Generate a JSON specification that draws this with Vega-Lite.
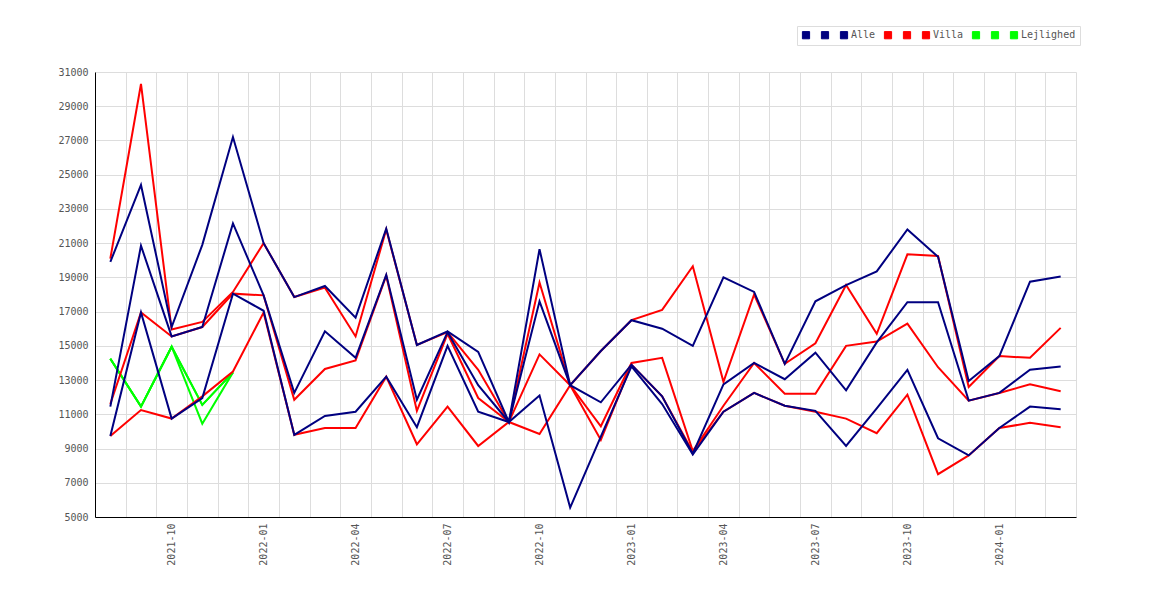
{
  "$schema": "https://vega.github.io/schema/vega-lite/v6.json",
  "width": 981,
  "height": 445,
  "autosize": {"type": "none"},
  "padding": {"left": 95, "top": 72, "right": 94, "bottom": 83},
  "background": "white",
  "config": {
    "view": {"stroke": null},
    "axis": {
      "domainColor": "#000000",
      "domainWidth": 1,
      "gridColor": "#dddddd",
      "gridWidth": 1,
      "ticks": false,
      "labelFont": "DejaVu Sans Mono",
      "labelFontSize": 10,
      "labelColor": "#555555",
      "title": null
    }
  },
  "data": {
    "values": [
      {"m": "2021-08", "s": "a1", "v": 19900}, {"m": "2021-09", "s": "a1", "v": 24400}, {"m": "2021-10", "s": "a1", "v": 16100}, {"m": "2021-11", "s": "a1", "v": 20900},
      {"m": "2021-12", "s": "a1", "v": 27200}, {"m": "2022-01", "s": "a1", "v": 21000}, {"m": "2022-02", "s": "a1", "v": 17850}, {"m": "2022-03", "s": "a1", "v": 18500},
      {"m": "2022-04", "s": "a1", "v": 16650}, {"m": "2022-05", "s": "a1", "v": 21850}, {"m": "2022-06", "s": "a1", "v": 15050}, {"m": "2022-07", "s": "a1", "v": 15850},
      {"m": "2022-08", "s": "a1", "v": 14650}, {"m": "2022-09", "s": "a1", "v": 10550}, {"m": "2022-10", "s": "a1", "v": 20650}, {"m": "2022-11", "s": "a1", "v": 12700},
      {"m": "2022-12", "s": "a1", "v": 14700}, {"m": "2023-01", "s": "a1", "v": 16500}, {"m": "2023-02", "s": "a1", "v": 16000}, {"m": "2023-03", "s": "a1", "v": 15000},
      {"m": "2023-04", "s": "a1", "v": 19000}, {"m": "2023-05", "s": "a1", "v": 18150}, {"m": "2023-06", "s": "a1", "v": 13950}, {"m": "2023-07", "s": "a1", "v": 17600},
      {"m": "2023-08", "s": "a1", "v": 18550}, {"m": "2023-09", "s": "a1", "v": 19350}, {"m": "2023-10", "s": "a1", "v": 21800}, {"m": "2023-11", "s": "a1", "v": 20200},
      {"m": "2023-12", "s": "a1", "v": 12950}, {"m": "2024-01", "s": "a1", "v": 14400}, {"m": "2024-02", "s": "a1", "v": 18750}, {"m": "2024-03", "s": "a1", "v": 19050},

      {"m": "2021-08", "s": "a2", "v": 11450}, {"m": "2021-09", "s": "a2", "v": 20850}, {"m": "2021-10", "s": "a2", "v": 15550}, {"m": "2021-11", "s": "a2", "v": 16100},
      {"m": "2021-12", "s": "a2", "v": 22150}, {"m": "2022-01", "s": "a2", "v": 17950}, {"m": "2022-02", "s": "a2", "v": 12250}, {"m": "2022-03", "s": "a2", "v": 15850},
      {"m": "2022-04", "s": "a2", "v": 14300}, {"m": "2022-05", "s": "a2", "v": 19150}, {"m": "2022-06", "s": "a2", "v": 11850}, {"m": "2022-07", "s": "a2", "v": 15800},
      {"m": "2022-08", "s": "a2", "v": 12700}, {"m": "2022-09", "s": "a2", "v": 10550}, {"m": "2022-10", "s": "a2", "v": 17600}, {"m": "2022-11", "s": "a2", "v": 12700},
      {"m": "2022-12", "s": "a2", "v": 11700}, {"m": "2023-01", "s": "a2", "v": 13900}, {"m": "2023-02", "s": "a2", "v": 12050}, {"m": "2023-03", "s": "a2", "v": 8700},
      {"m": "2023-04", "s": "a2", "v": 12750}, {"m": "2023-05", "s": "a2", "v": 14000}, {"m": "2023-06", "s": "a2", "v": 13050}, {"m": "2023-07", "s": "a2", "v": 14600},
      {"m": "2023-08", "s": "a2", "v": 12400}, {"m": "2023-09", "s": "a2", "v": 15200}, {"m": "2023-10", "s": "a2", "v": 17550}, {"m": "2023-11", "s": "a2", "v": 17550},
      {"m": "2023-12", "s": "a2", "v": 11800}, {"m": "2024-01", "s": "a2", "v": 12250}, {"m": "2024-02", "s": "a2", "v": 13600}, {"m": "2024-03", "s": "a2", "v": 13800},

      {"m": "2021-08", "s": "Alle", "v": 9730}, {"m": "2021-09", "s": "Alle", "v": 16950}, {"m": "2021-10", "s": "Alle", "v": 10750}, {"m": "2021-11", "s": "Alle", "v": 11950},
      {"m": "2021-12", "s": "Alle", "v": 18050}, {"m": "2022-01", "s": "Alle", "v": 17050}, {"m": "2022-02", "s": "Alle", "v": 9800}, {"m": "2022-03", "s": "Alle", "v": 10900},
      {"m": "2022-04", "s": "Alle", "v": 11150}, {"m": "2022-05", "s": "Alle", "v": 13200}, {"m": "2022-06", "s": "Alle", "v": 10250}, {"m": "2022-07", "s": "Alle", "v": 15000},
      {"m": "2022-08", "s": "Alle", "v": 11150}, {"m": "2022-09", "s": "Alle", "v": 10550}, {"m": "2022-10", "s": "Alle", "v": 12100}, {"m": "2022-11", "s": "Alle", "v": 5550},
      {"m": "2022-12", "s": "Alle", "v": 9700}, {"m": "2023-01", "s": "Alle", "v": 13800}, {"m": "2023-02", "s": "Alle", "v": 11600}, {"m": "2023-03", "s": "Alle", "v": 8650},
      {"m": "2023-04", "s": "Alle", "v": 11150}, {"m": "2023-05", "s": "Alle", "v": 12250}, {"m": "2023-06", "s": "Alle", "v": 11500}, {"m": "2023-07", "s": "Alle", "v": 11200},
      {"m": "2023-08", "s": "Alle", "v": 9150}, {"m": "2023-09", "s": "Alle", "v": 11350}, {"m": "2023-10", "s": "Alle", "v": 13600}, {"m": "2023-11", "s": "Alle", "v": 9600},
      {"m": "2023-12", "s": "Alle", "v": 8600}, {"m": "2024-01", "s": "Alle", "v": 10200}, {"m": "2024-02", "s": "Alle", "v": 11450}, {"m": "2024-03", "s": "Alle", "v": 11300},

      {"m": "2021-08", "s": "v1", "v": 20100}, {"m": "2021-09", "s": "v1", "v": 30300}, {"m": "2021-10", "s": "v1", "v": 15950}, {"m": "2021-11", "s": "v1", "v": 16400},
      {"m": "2021-12", "s": "v1", "v": 18150}, {"m": "2022-01", "s": "v1", "v": 21000}, {"m": "2022-02", "s": "v1", "v": 17850}, {"m": "2022-03", "s": "v1", "v": 18400},
      {"m": "2022-04", "s": "v1", "v": 15550}, {"m": "2022-05", "s": "v1", "v": 21800}, {"m": "2022-06", "s": "v1", "v": 15050}, {"m": "2022-07", "s": "v1", "v": 15800},
      {"m": "2022-08", "s": "v1", "v": 13600}, {"m": "2022-09", "s": "v1", "v": 10550}, {"m": "2022-10", "s": "v1", "v": 18700}, {"m": "2022-11", "s": "v1", "v": 12700},
      {"m": "2022-12", "s": "v1", "v": 14700}, {"m": "2023-01", "s": "v1", "v": 16500}, {"m": "2023-02", "s": "v1", "v": 17100}, {"m": "2023-03", "s": "v1", "v": 19650},
      {"m": "2023-04", "s": "v1", "v": 12900}, {"m": "2023-05", "s": "v1", "v": 18000}, {"m": "2023-06", "s": "v1", "v": 13950}, {"m": "2023-07", "s": "v1", "v": 15150},
      {"m": "2023-08", "s": "v1", "v": 18550}, {"m": "2023-09", "s": "v1", "v": 15700}, {"m": "2023-10", "s": "v1", "v": 20350}, {"m": "2023-11", "s": "v1", "v": 20250},
      {"m": "2023-12", "s": "v1", "v": 12600}, {"m": "2024-01", "s": "v1", "v": 14400}, {"m": "2024-02", "s": "v1", "v": 14300}, {"m": "2024-03", "s": "v1", "v": 16050},

      {"m": "2021-08", "s": "v2", "v": 11600}, {"m": "2021-09", "s": "v2", "v": 16950}, {"m": "2021-10", "s": "v2", "v": 15550}, {"m": "2021-11", "s": "v2", "v": 16100},
      {"m": "2021-12", "s": "v2", "v": 18050}, {"m": "2022-01", "s": "v2", "v": 17950}, {"m": "2022-02", "s": "v2", "v": 11850}, {"m": "2022-03", "s": "v2", "v": 13650},
      {"m": "2022-04", "s": "v2", "v": 14150}, {"m": "2022-05", "s": "v2", "v": 19100}, {"m": "2022-06", "s": "v2", "v": 11200}, {"m": "2022-07", "s": "v2", "v": 15700},
      {"m": "2022-08", "s": "v2", "v": 11950}, {"m": "2022-09", "s": "v2", "v": 10550}, {"m": "2022-10", "s": "v2", "v": 14500}, {"m": "2022-11", "s": "v2", "v": 12700},
      {"m": "2022-12", "s": "v2", "v": 10300}, {"m": "2023-01", "s": "v2", "v": 14000}, {"m": "2023-02", "s": "v2", "v": 14300}, {"m": "2023-03", "s": "v2", "v": 8850},
      {"m": "2023-04", "s": "v2", "v": 11500}, {"m": "2023-05", "s": "v2", "v": 14000}, {"m": "2023-06", "s": "v2", "v": 12200}, {"m": "2023-07", "s": "v2", "v": 12200},
      {"m": "2023-08", "s": "v2", "v": 15000}, {"m": "2023-09", "s": "v2", "v": 15250}, {"m": "2023-10", "s": "v2", "v": 16300}, {"m": "2023-11", "s": "v2", "v": 13750},
      {"m": "2023-12", "s": "v2", "v": 11800}, {"m": "2024-01", "s": "v2", "v": 12250}, {"m": "2024-02", "s": "v2", "v": 12750}, {"m": "2024-03", "s": "v2", "v": 12350},

      {"m": "2021-08", "s": "Villa", "v": 9730}, {"m": "2021-09", "s": "Villa", "v": 11250}, {"m": "2021-10", "s": "Villa", "v": 10750}, {"m": "2021-11", "s": "Villa", "v": 12050},
      {"m": "2021-12", "s": "Villa", "v": 13500}, {"m": "2022-01", "s": "Villa", "v": 16950}, {"m": "2022-02", "s": "Villa", "v": 9800}, {"m": "2022-03", "s": "Villa", "v": 10200},
      {"m": "2022-04", "s": "Villa", "v": 10200}, {"m": "2022-05", "s": "Villa", "v": 13200}, {"m": "2022-06", "s": "Villa", "v": 9250}, {"m": "2022-07", "s": "Villa", "v": 11450},
      {"m": "2022-08", "s": "Villa", "v": 9150}, {"m": "2022-09", "s": "Villa", "v": 10550}, {"m": "2022-10", "s": "Villa", "v": 9850}, {"m": "2022-11", "s": "Villa", "v": 12700},
      {"m": "2022-12", "s": "Villa", "v": 9500}, {"m": "2023-01", "s": "Villa", "v": 13900}, {"m": "2023-02", "s": "Villa", "v": 12050}, {"m": "2023-03", "s": "Villa", "v": 8800},
      {"m": "2023-04", "s": "Villa", "v": 11150}, {"m": "2023-05", "s": "Villa", "v": 12250}, {"m": "2023-06", "s": "Villa", "v": 11500}, {"m": "2023-07", "s": "Villa", "v": 11150},
      {"m": "2023-08", "s": "Villa", "v": 10750}, {"m": "2023-09", "s": "Villa", "v": 9900}, {"m": "2023-10", "s": "Villa", "v": 12150}, {"m": "2023-11", "s": "Villa", "v": 7500},
      {"m": "2023-12", "s": "Villa", "v": 8600}, {"m": "2024-01", "s": "Villa", "v": 10200}, {"m": "2024-02", "s": "Villa", "v": 10500}, {"m": "2024-03", "s": "Villa", "v": 10250},

      {"m": "2021-08", "s": "l1", "v": 14250}, {"m": "2021-09", "s": "l1", "v": 11450}, {"m": "2021-10", "s": "l1", "v": 14950}, {"m": "2021-11", "s": "l1", "v": 11550}, {"m": "2021-12", "s": "l1", "v": 13450},
      {"m": "2021-08", "s": "l2", "v": 14250}, {"m": "2021-09", "s": "l2", "v": 11450}, {"m": "2021-10", "s": "l2", "v": 14950}, {"m": "2021-11", "s": "l2", "v": 10450}, {"m": "2021-12", "s": "l2", "v": 13450},
      {"m": "2021-08", "s": "Lejlighed", "v": 14250}, {"m": "2021-09", "s": "Lejlighed", "v": 11450}, {"m": "2021-10", "s": "Lejlighed", "v": 14950}, {"m": "2021-11", "s": "Lejlighed", "v": 11550}, {"m": "2021-12", "s": "Lejlighed", "v": 13450}
    ]
  },
  "encoding": {
    "x": {
      "field": "m",
      "type": "ordinal",
      "bandPosition": 0.5,
      "scale": {
        "type": "band",
        "paddingInner": 0,
        "paddingOuter": 0,
        "domain": ["2021-08", "2021-09", "2021-10", "2021-11", "2021-12", "2022-01", "2022-02", "2022-03", "2022-04", "2022-05", "2022-06", "2022-07", "2022-08", "2022-09", "2022-10", "2022-11", "2022-12", "2023-01", "2023-02", "2023-03", "2023-04", "2023-05", "2023-06", "2023-07", "2023-08", "2023-09", "2023-10", "2023-11", "2023-12", "2024-01", "2024-02", "2024-03"]
      },
      "axis": {
        "grid": true,
        "tickBand": "extent",
        "labelAngle": -90,
        "labelPadding": 6,
        "labelExpr": "test(/-(01|04|07|10)$/, datum.value) ? datum.value : ''"
      }
    },
    "y": {
      "field": "v",
      "type": "quantitative",
      "scale": {"domain": [5000, 31000], "nice": false, "zero": false},
      "axis": {
        "values": [5000, 7000, 9000, 11000, 13000, 15000, 17000, 19000, 21000, 23000, 25000, 27000, 29000, 31000],
        "format": "d",
        "labelPadding": 7
      }
    },
    "color": {
      "field": "s",
      "type": "nominal",
      "scale": {
        "domain": ["a1", "a2", "Alle", "v1", "v2", "Villa", "l1", "l2", "Lejlighed"],
        "range": ["#000080", "#000080", "#000080", "#ff0000", "#ff0000", "#ff0000", "#00ff00", "#00ff00", "#00ff00"]
      },
      "legend": {
        "title": null,
        "orient": "none",
        "legendX": 702,
        "legendY": -46,
        "direction": "horizontal",
        "columns": 9,
        "symbolType": "square",
        "symbolSize": 52,
        "symbolStrokeWidth": 1,
        "labelOffset": 2,
        "columnPadding": 6,
        "padding": 4,
        "strokeColor": "#dddddd",
        "fillColor": "white",
        "labelFont": "DejaVu Sans Mono",
        "labelFontSize": 10,
        "labelColor": "#555555",
        "labelExpr": "indexof(['Alle', 'Villa', 'Lejlighed'], datum.label) >= 0 ? datum.label : '\u00a0'",
        "encode": {
          "symbols": {
            "update": {
              "fill": {"scale": "color", "field": "value"},
              "stroke": {"value": "#555555"},
              "opacity": {"value": 1}
            }
          }
        }
      }
    }
  },
  "layer": [
    {
      "transform": [{"filter": {"field": "s", "oneOf": ["l1", "l2", "Lejlighed"]}}],
      "mark": {"type": "line", "strokeWidth": 2}
    },
    {
      "transform": [{"filter": {"field": "s", "oneOf": ["v1", "v2", "Villa"]}}],
      "mark": {"type": "line", "strokeWidth": 2}
    },
    {
      "transform": [{"filter": {"field": "s", "oneOf": ["a1", "a2", "Alle"]}}],
      "mark": {"type": "line", "strokeWidth": 2}
    }
  ]
}
